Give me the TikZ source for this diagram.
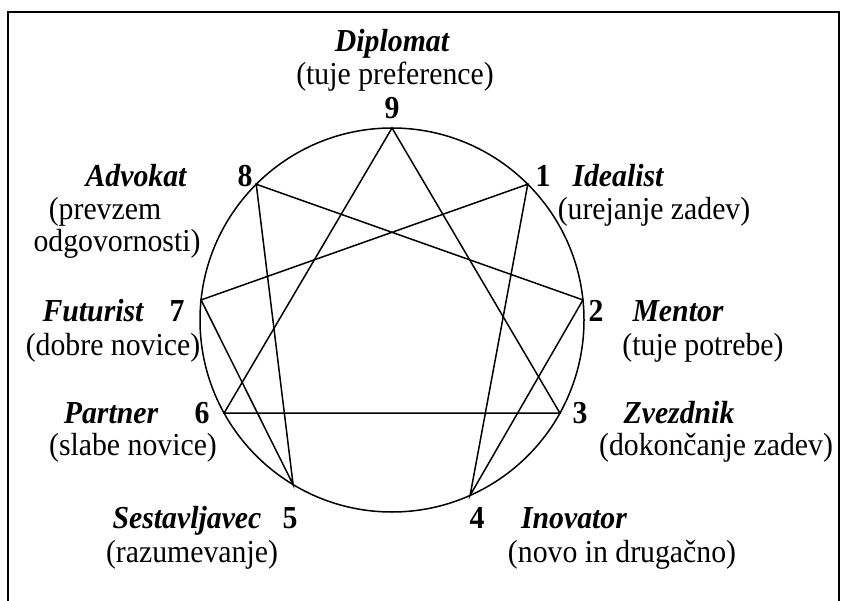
\documentclass[tikz,border=0pt]{standalone}
\usepackage{fontspec}
\setmainfont{Liberation Serif}[FakeStretch=0.93]
\begin{document}
\begin{tikzpicture}[x=1pt,y=-1pt,line width=1.5pt,
  every node/.style={font=\fontsize{32}{34}\selectfont,inner sep=0pt,anchor=base},
  typename/.style={font=\fontsize{32}{34}\selectfont\bfseries\itshape},
  typenum/.style={font=\fontsize{32}{34}\selectfont\bfseries}]
  \useasboundingbox (0,0) rectangle (842,601);
  \draw[line width=2pt] (8,601)--(8,12)--(839,12)--(839,601);
  % circle and the nine points on it
  \begin{scope}[shift={(392,320)}]
    \draw (0,0) circle[radius=192];
    \foreach \n/\a in {9/90,1/45,2/6,3/-29,4/-66,5/-121,6/-151,7/174,8/135}
      \coordinate (p\n) at (-\a:192);
  \end{scope}
  \draw (p9)--(p3)--(p6)--cycle;
  \draw (p1)--(p4)--(p2)--(p8)--(p5)--(p7)--cycle;
  % labels
  \node[typename] (diplomat) at (392,52) {Diplomat};
  \node (diplomatnote) at (395,85) {(tuje preference)};
  \node[typenum] (n9) at (392,119) {9};
  \node[typename] (advokat) at (136,187) {Advokat};
  \node[typenum] (n8) at (245,187) {8};
  \node (advokatnote1) at (105,220) {(prevzem};
  \node (advokatnote2) at (117,252) {odgovornosti)};
  \node[typenum] (n1) at (543,187) {1};
  \node[typename] (idealist) at (618,187) {Idealist};
  \node (idealistnote) at (654,220) {(urejanje zadev)};
  \node[typename] (futurist) at (93,321) {Futurist};
  \node[typenum] (n7) at (177,321) {7};
  \node (futuristnote) at (113,355) {(dobre novice)};
  \node[typenum] (n2) at (596,321) {2};
  \node[typename] (mentor) at (678,321) {Mentor};
  \node (mentornote) at (703,355) {(tuje potrebe)};
  \node[typename] (partner) at (111,423) {Partner};
  \node[typenum] (n6) at (202,423) {6};
  \node (partnernote) at (133,455) {(slabe novice)};
  \node[typenum] (n3) at (580,423) {3};
  \node[typename] (zvezdnik) at (679,423) {Zvezdnik};
  \node (zvezdniknote) at (716,455) {(dokončanje zadev)};
  \node[typename] (sestavljavec) at (187,528) {Sestavljavec};
  \node[typenum] (n5) at (290,528) {5};
  \node (sestavljavecnote) at (192,562) {(razumevanje)};
  \node[typenum] (n4) at (477,528) {4};
  \node[typename] (inovator) at (574,528) {Inovator};
  \node (inovatornote) at (622,562) {(novo in drugačno)};
\end{tikzpicture}
\end{document}
